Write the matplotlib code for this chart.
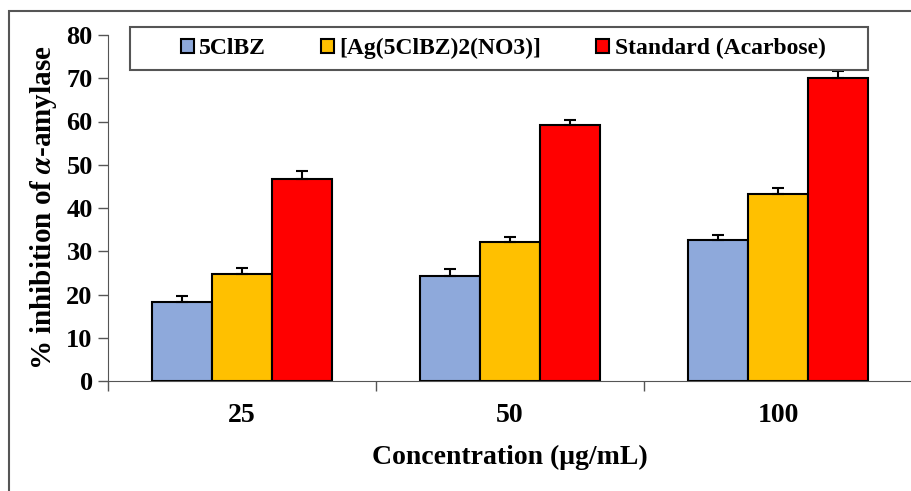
import numpy as np
import matplotlib.pyplot as plt
from matplotlib.patches import Rectangle

concentrations = ['25', '50', '100']
series_names = ['5ClBZ', '[Ag(5ClBZ)2(NO3)]', 'Standard (Acarbose)']
ligand = [18.3, 24.3, 32.6]
complex_ag = [24.7, 32.1, 43.2]
acarbose = [46.7, 59.2, 70.1]
ligand_err = [1.4, 1.6, 1.1]
complex_err = [1.4, 1.3, 1.4]
acarbose_err = [1.8, 1.1, 1.6]

colors = ['#8EA9DB', '#FFC000', '#FF0000']

plt.rcParams['font.family'] = ['Liberation Serif', 'DejaVu Serif']
plt.rcParams['font.weight'] = 'bold'
plt.rcParams['mathtext.fontset'] = 'stix'

fig = plt.figure(figsize=(9.11, 4.91), dpi=100)
ax = fig.add_axes([108 / 911, 1 - 381 / 491, 804 / 911, 346 / 491])

# outer frame around the whole chart
fig.patches.append(Rectangle((9 / 911, -0.05), 1.0, 1 - 11 / 491 + 0.05,
                             transform=fig.transFigure, fill=False,
                             edgecolor='#555555', linewidth=1.5))

x = np.arange(len(concentrations))
w = 0.224
values = [ligand, complex_ag, acarbose]
errs = [ligand_err, complex_err, acarbose_err]
for i in range(3):
    pos = x + (i - 1) * w
    ax.bar(pos, values[i], w, color=colors[i], edgecolor='black',
           linewidth=1.5, label=series_names[i], zorder=2)
    ax.errorbar(pos, values[i], yerr=[np.zeros(3), errs[i]], fmt='none',
                ecolor='black', elinewidth=1.5, capsize=4, capthick=1.5,
                zorder=3)

ax.set_xlim(-0.5, 2.5)
ax.set_ylim(0, 80)
ax.set_yticks(range(0, 81, 10))
ax.set_xticks(x)
ax.set_xticklabels(concentrations)
ax.set_xticks([-0.5, 0.5, 1.5, 2.5], minor=True)
ax.tick_params(axis='x', which='major', length=0, pad=16, labelsize=20)
ax.tick_params(axis='x', which='minor', length=7, width=1, color='#555555')
ax.tick_params(axis='y', length=7, width=1, color='#555555', labelsize=19,
               pad=4)
for lbl in ax.get_xticklabels() + ax.get_yticklabels():
    lbl.set_fontweight('bold')

ax.spines['top'].set_visible(False)
ax.spines['right'].set_visible(False)
ax.spines['left'].set_color('#555555')
ax.spines['bottom'].set_color('#555555')

ax.set_xlabel('Concentration (μg/mL)', fontsize=20, fontweight='bold',
              labelpad=12)
ax.set_ylabel('% inhibition of $\\mathit{\\alpha}$-amylase', fontsize=21,
              fontweight='bold', labelpad=5)

# legend box drawn separately so its width matches the reference
ax.add_patch(Rectangle((22 / 804, 1 - 35 / 346), 738 / 804, 43 / 346,
                       transform=ax.transAxes, fill=False, clip_on=False,
                       edgecolor='#555555', linewidth=1.5, zorder=4))
leg = ax.legend(loc='center', bbox_to_anchor=((22 + 369) / 804 + 4 / 804,
                                              1 - 13.5 / 346),
                ncol=3, frameon=False, handlelength=0.55, handleheight=0.55,
                handletextpad=0.25, columnspacing=2.3, borderaxespad=0,
                prop={'weight': 'bold', 'size': 17})

fig.savefig('out.png', dpi=100)
